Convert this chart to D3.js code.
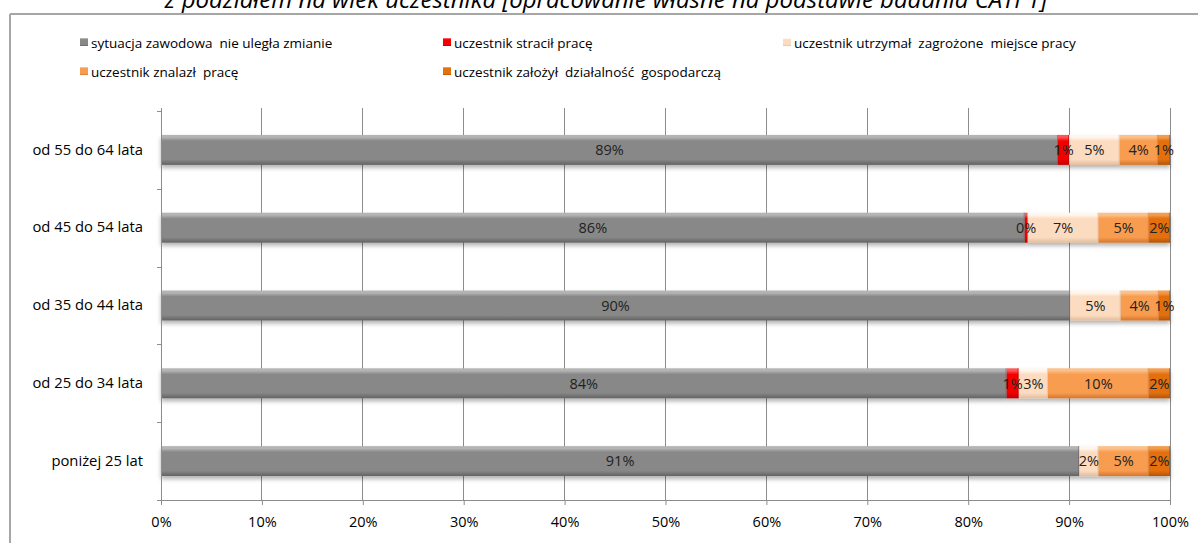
<!DOCTYPE html>
<html><head><meta charset="utf-8">
<script src="https://cdn.jsdelivr.net/npm/d3@7"></script>
<style>
html,body{margin:0;padding:0;background:#fff;}
svg{display:block;font-family:"Open Sans",Lato,sans-serif;}
svg text{white-space:pre;}
</style></head>
<body>
<svg id="chart" width="1198" height="543"></svg>
<script>
const titleText = "z podziałem na wiek uczestnika [opracowanie własne na podstawie badania CATI 1]";
const categories = ["od 55 do 64 lata","od 45 do 54 lata","od 35 do 44 lata","od 25 do 34 lata","poniżej 25 lat"];
const seriesNames = ["sytuacja zawodowa  nie uległa zmianie","uczestnik stracił pracę","uczestnik utrzymał  zagrożone  miejsce pracy","uczestnik znalazł  pracę","uczestnik założył  działalność  gospodarczą"];
const unchanged = [88.9, 85.6, 90.1, 83.8, 91.0];
const lost      = [1.1, 0.3, null, 1.2, null];
const kept      = [5.0, 7.0, 5.0, 2.9, 1.9];
const found     = [3.8, 5.0, 3.8, 10.0, 5.0];
const business  = [1.2, 2.1, 1.1, 2.1, 2.1];
const xTicks = [0,10,20,30,40,50,60,70,80,90,100];

const seriesValues = [unchanged, lost, kept, found, business];
const colors = [
  {base:"#888888", light:"#b4b4b4", dark:"#626262"},
  {base:"#f20000", light:"#ff5555", dark:"#b80000"},
  {base:"#fcdcc1", light:"#fff6ee", dark:"#e2bd9c"},
  {base:"#f89c50", light:"#fcc08a", dark:"#d4762c"},
  {base:"#e4700f", light:"#f39c4c", dark:"#b05406"}
];

const svg = d3.select("#chart");
const defs = svg.append("defs");
colors.forEach((c,i)=>{
  const g = defs.append("linearGradient").attr("id","g"+i).attr("x1",0).attr("y1",0).attr("x2",0).attr("y2",1);
  [[0,c.light],[8,c.light],[20,c.base],[82,c.base],[100,c.dark]].forEach(([o,col])=>
    g.append("stop").attr("offset",o+"%").attr("stop-color",col));
});
const f = defs.append("filter").attr("id","shadow").attr("x","-5%").attr("y","-30%").attr("width","110%").attr("height","180%");
f.append("feDropShadow").attr("dx",0).attr("dy",3).attr("stdDeviation",2).attr("flood-color","#000").attr("flood-opacity",0.3);

// title (cut off at top, as in the original)
svg.append("text").attr("x",606).attr("y",8).attr("text-anchor","middle")
  .attr("font-size",24).attr("font-style","italic").attr("fill","#000")
  .text(titleText);

// chart frame
svg.append("line").attr("x1",10).attr("x2",1198).attr("y1",14).attr("y2",14).attr("stroke","#a6a6a6").attr("stroke-width",2);
svg.append("line").attr("x1",10).attr("x2",10).attr("y1",14).attr("y2",543).attr("stroke","#a6a6a6").attr("stroke-width",2);

// legend
const legendPos = [[80,43],[443,43],[783,43],[80,72],[443,72]];
seriesNames.forEach((name,i)=>{
  const g = svg.append("g").attr("transform",`translate(${legendPos[i][0]},${legendPos[i][1]})`);
  g.append("rect").attr("x",0).attr("y",-5).attr("width",8).attr("height",8).attr("fill",`url(#g${i})`);
  g.append("text").attr("x",11).attr("y",0).attr("dy","0.35em").attr("font-size",13.5).attr("fill","#000").text(name);
});

const x = d3.scaleLinear().domain([0,100]).range([161,1170]);
const y = d3.scaleBand().domain(categories).range([111,500]).paddingInner(0.615).paddingOuter(0.3075);

// gridlines
svg.append("g").selectAll("line").data(xTicks.slice(1)).join("line")
  .attr("x1",d=>x(d)).attr("x2",d=>x(d)).attr("y1",108).attr("y2",500)
  .attr("stroke","#8c8c8c").attr("stroke-width",1).attr("shape-rendering","crispEdges");

// bars
const stacked = categories.map((c,ci)=>{
  let acc = 0;
  return seriesValues.map((arr,si)=>{
    const v = arr[ci];
    const seg = {cat:c, si, v, x0:acc, x1:acc+(v||0)};
    acc += (v||0);
    return seg;
  });
}).flat();

const barG = svg.append("g").attr("filter","url(#shadow)");
barG.selectAll("rect").data(stacked.filter(d=>d.v)).join("rect")
  .attr("x",d=>x(d.x0)).attr("y",d=>y(d.cat)).attr("width",d=>x(d.x1)-x(d.x0))
  .attr("height",y.bandwidth()).attr("fill",d=>`url(#g${d.si})`);
// bevel separators
svg.append("g").selectAll("line").data(stacked.filter(d=>d.v && d.v>0.5)).join("line")
  .attr("x1",d=>x(d.x1)-0.5).attr("x2",d=>x(d.x1)-0.5).attr("y1",d=>y(d.cat)).attr("y2",d=>y(d.cat)+y.bandwidth())
  .attr("stroke",d=>colors[d.si].dark).attr("stroke-opacity",0.6);

// labels
svg.append("g").selectAll("text").data(stacked.filter(d=>d.v!==null)).join("text")
  .attr("x",d=>(x(d.x0)+x(d.x1))/2).attr("y",d=>y(d.cat)+y.bandwidth()/2).attr("dy","0.36em")
  .attr("text-anchor","middle").attr("font-size",14.5).attr("fill","#222")
  .text(d=>Math.round(d.v)+"%");

// axes
const xAxis = d3.axisBottom(x).tickValues(xTicks).tickFormat(d=>d+"%").tickSize(5).tickPadding(12);
const gx = svg.append("g").attr("transform","translate(0,500)").call(xAxis);
gx.select(".domain").attr("stroke","#8c8c8c").attr("d","M161,0.5H1170");
gx.selectAll(".tick line").attr("stroke","#8c8c8c");
gx.selectAll(".tick text").attr("font-size",14.5).attr("fill","#000").attr("font-family","'Open Sans',sans-serif");

const yAxis = d3.axisLeft(y).tickSize(0).tickPadding(18);
const gy = svg.append("g").attr("transform","translate(161,0)").call(yAxis);
gy.select(".domain").attr("stroke","#8c8c8c").attr("d","M0.5,108V500");
gy.selectAll(".tick text").attr("font-size",14.8).attr("fill","#000").attr("font-family","'Open Sans',sans-serif");
// category boundary ticks
const bounds = categories.map(c=>y(c)-y.step()*y.paddingInner()/2).concat([500]);
gy.append("g").selectAll("line").data(bounds).join("line")
  .attr("x1",-4).attr("x2",0).attr("y1",d=>Math.round(d)+0.5).attr("y2",d=>Math.round(d)+0.5).attr("stroke","#8c8c8c");
</script>
</body></html>
